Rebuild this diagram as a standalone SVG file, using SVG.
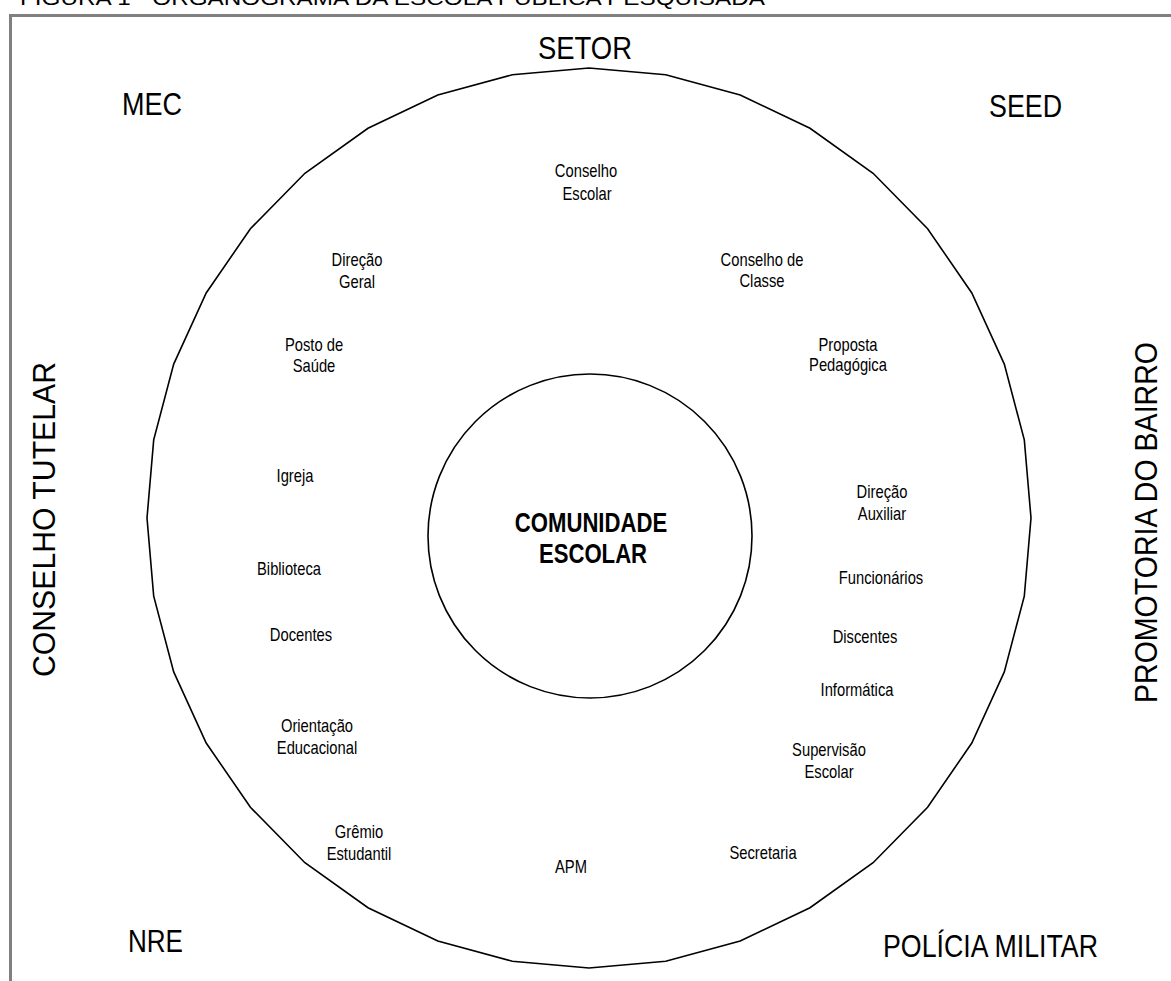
<svg xmlns="http://www.w3.org/2000/svg" width="1171" height="981" viewBox="0 0 1171 981">
<style>
text{font-family:"Liberation Sans",Arial,sans-serif;fill:#000}
.s{font-size:18px;text-anchor:middle}
.b{font-size:32px}
.c{font-size:27px;font-weight:bold;text-anchor:middle}
.ring{fill:none;stroke:#000;stroke-width:1.6}
</style>
<rect width="1171" height="981" fill="#fff"/>
<text x="20" y="5" font-size="20" textLength="745" lengthAdjust="spacingAndGlyphs">FIGURA 1 - ORGANOGRAMA DA ESCOLA PÚBLICA PESQUISADA</text>
<g id="frame"><path d="M10.5,981 V15.5 H1171" fill="none" stroke="#808080" stroke-width="3"/></g>
<g id="outer-ring">
<polygon class="ring" points="1031,518 1024.3,596.1 1004.3,671.9 971.8,743 927.6,807.3 873.1,862.7 810,907.7 740.2,940.9 665.7,961.2 589,968 512.3,961.2 437.8,940.9 368,907.7 304.9,862.7 250.4,807.3 206.2,743 173.7,671.9 153.7,596.1 147,518 153.7,439.9 173.7,364.1 206.2,293 250.4,228.7 304.9,173.3 368,128.3 437.8,95.1 512.3,74.8 589,68 665.7,74.8 740.2,95.1 810,128.3 873.1,173.3 927.6,228.7 971.8,293 1004.3,364.1 1024.3,439.9"/>
</g>
<g id="comunidade-escolar">
<circle class="ring" cx="590" cy="536" r="162" stroke-width="2"/>
<text class="c" transform="translate(591,532) scale(0.82,1)">COMUNIDADE</text>
<text class="c" transform="translate(593,563) scale(0.82,1)">ESCOLAR</text>
</g>
<g id="setor"><text class="b" x="538" y="59" textLength="94" lengthAdjust="spacingAndGlyphs">SETOR</text></g>
<g id="mec"><text class="b" x="122" y="115" textLength="60" lengthAdjust="spacingAndGlyphs">MEC</text></g>
<g id="seed"><text class="b" x="989" y="117" textLength="73" lengthAdjust="spacingAndGlyphs">SEED</text></g>
<g id="nre"><text class="b" x="128" y="952" textLength="55" lengthAdjust="spacingAndGlyphs">NRE</text></g>
<g id="policia-militar"><text class="b" x="883" y="957" textLength="215" lengthAdjust="spacingAndGlyphs">POLÍCIA MILITAR</text></g>
<g id="conselho-tutelar"><text class="b" transform="translate(55,677) rotate(-90)" textLength="315" lengthAdjust="spacingAndGlyphs">CONSELHO TUTELAR</text></g>
<g id="promotoria"><text class="b" transform="translate(1157,703) rotate(-90)" textLength="361" lengthAdjust="spacingAndGlyphs">PROMOTORIA DO BAIRRO</text></g>
<g id="conselho-escolar"><text class="s" transform="translate(586,177) scale(0.82,1)">Conselho</text><text class="s" transform="translate(587,200) scale(0.82,1)">Escolar</text></g>
<g id="direcao-geral"><text class="s" transform="translate(357,266) scale(0.82,1)">Direção</text><text class="s" transform="translate(357,288) scale(0.82,1)">Geral</text></g>
<g id="conselho-classe"><text class="s" transform="translate(762,266) scale(0.82,1)">Conselho de</text><text class="s" transform="translate(762,287) scale(0.82,1)">Classe</text></g>
<g id="proposta"><text class="s" transform="translate(848,351) scale(0.82,1)">Proposta</text><text class="s" transform="translate(848,371) scale(0.82,1)">Pedagógica</text></g>
<g id="posto-saude"><text class="s" transform="translate(314,351) scale(0.82,1)">Posto de</text><text class="s" transform="translate(314,372) scale(0.82,1)">Saúde</text></g>
<g id="igreja"><text class="s" transform="translate(295,482) scale(0.82,1)">Igreja</text></g>
<g id="direcao-auxiliar"><text class="s" transform="translate(882,498) scale(0.82,1)">Direção</text><text class="s" transform="translate(882,520) scale(0.82,1)">Auxiliar</text></g>
<g id="biblioteca"><text class="s" transform="translate(289,575) scale(0.82,1)">Biblioteca</text></g>
<g id="funcionarios"><text class="s" transform="translate(881,584) scale(0.82,1)">Funcionários</text></g>
<g id="docentes"><text class="s" transform="translate(301,641) scale(0.82,1)">Docentes</text></g>
<g id="discentes"><text class="s" transform="translate(865,643) scale(0.82,1)">Discentes</text></g>
<g id="informatica"><text class="s" transform="translate(857,696) scale(0.82,1)">Informática</text></g>
<g id="orientacao"><text class="s" transform="translate(317,732) scale(0.82,1)">Orientação</text><text class="s" transform="translate(317,754) scale(0.82,1)">Educacional</text></g>
<g id="supervisao"><text class="s" transform="translate(829,756) scale(0.82,1)">Supervisão</text><text class="s" transform="translate(829,778) scale(0.82,1)">Escolar</text></g>
<g id="gremio"><text class="s" transform="translate(359,838) scale(0.82,1)">Grêmio</text><text class="s" transform="translate(359,860) scale(0.82,1)">Estudantil</text></g>
<g id="secretaria"><text class="s" transform="translate(763,859) scale(0.82,1)">Secretaria</text></g>
<g id="apm"><text class="s" transform="translate(571,873) scale(0.82,1)">APM</text></g>
</svg>
